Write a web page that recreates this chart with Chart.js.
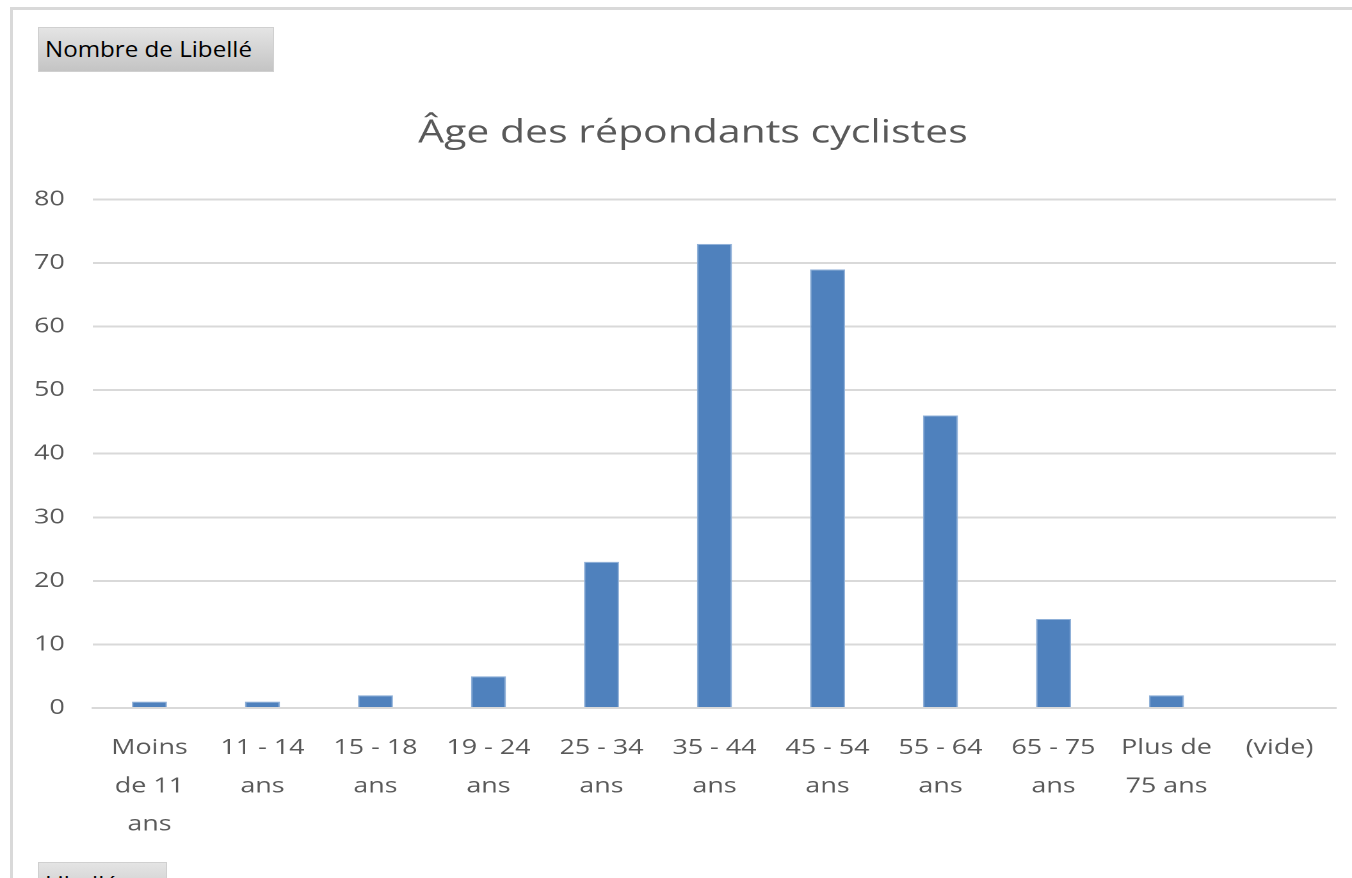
<!DOCTYPE html>
<html lang="fr">
<head>
<meta charset="utf-8">
<title>Âge des répondants cyclistes</title>
<script src="https://cdn.jsdelivr.net/npm/chart.js@4.4.1/dist/chart.umd.min.js"></script>
<style>
    html, body { margin: 0; padding: 0; background: #ffffff; overflow: hidden; }
    #wrap { position: relative; width: 1352px; height: 878px; }
    #frame {
        position: absolute; left: 10px; top: 7px; width: 1400px; height: 900px;
        border-left: 3px solid #d9d9d9; border-top: 3px solid #d9d9d9;
    }
    .pivot-btn {
        position: absolute; height: 45px; box-sizing: border-box;
        background: linear-gradient(#e4e4e4, #c4c4c4);
        border: 1px solid #d0d0d0;
        font-family: 'Open Sans', sans-serif; font-size: 21px; color: #000;
        padding-left: 6px; line-height: 43px; overflow: hidden; white-space: nowrap;
    }
    .pivot-btn span { display: inline-block; transform: scaleX(1.15); transform-origin: 0 50%; }
    /* le rendu Excel est plus large : on étire le canvas horizontalement */
    #chartBox { position: absolute; left: 0; top: 0; width: 1056px; height: 878px;
                transform: scaleX(1.2803); transform-origin: 0 0; }
</style>
</head>
<body>
<div id="wrap">
    <div id="frame"></div>
    <div id="chartBox"><canvas id="ageChart" width="1056" height="878"></canvas></div>
    <div class="pivot-btn" style="left:38px; top:27px; width:236px;"><span>Nombre de Libellé</span></div>
    <div class="pivot-btn" style="left:38px; top:862px; width:129px;"><span>Libellé</span></div>
</div>
<script>
// Données
const categories = [
    ['Moins', 'de 11', 'ans'],
    ['11 - 14', 'ans'],
    ['15 - 18', 'ans'],
    ['19 - 24', 'ans'],
    ['25 - 34', 'ans'],
    ['35 - 44', 'ans'],
    ['45 - 54', 'ans'],
    ['55 - 64', 'ans'],
    ['65 - 75', 'ans'],
    ['Plus de', '75 ans'],
    '(vide)'
];
const counts = [1, 1, 2, 5, 23, 73, 69, 46, 14, 2, 0];
const yMax = 80;
const yStep = 10;

const textColor = '#595959';
const gridColor = '#d9d9d9';

// Décale le bloc titre vers la droite (centré comme dans Excel)
const titleShiftPlugin = {
    id: 'titleShift',
    afterLayout(chart) {
        if (chart.titleBlock) chart.titleBlock.left += 39;
    }
};

const ctx = document.getElementById('ageChart').getContext('2d');
new Chart(ctx, {
    type: 'bar',
    plugins: [titleShiftPlugin],
    data: {
        labels: categories,
        datasets: [{
            label: 'Total',
            data: counts,
            backgroundColor: '#4f81bd',
            borderColor: '#8fb0d8',
            borderWidth: 1,
            barPercentage: 0.31,
            categoryPercentage: 1.0
        }]
    },
    options: {
        responsive: false,
        animation: false,
        devicePixelRatio: 2,
        layout: { padding: { top: 95, right: 12.5, bottom: 0, left: 0 } },
        plugins: {
            legend: { display: false },
            tooltip: { enabled: false },
            title: {
                display: true,
                text: 'Âge des répondants cyclistes',
                color: textColor,
                font: { family: 'Open Sans', size: 32, weight: 'normal' },
                padding: { top: 19, bottom: 47 }
            }
        },
        scales: {
            x: {
                grid: { display: false, drawTicks: false },
                border: { color: gridColor, width: 2 },
                ticks: {
                    color: textColor,
                    font: { family: 'Open Sans', size: 21, lineHeight: 1.82 },
                    padding: 21,
                    maxRotation: 0,
                    autoSkip: false
                },
                afterFit: (scale) => { scale.height = 170; }
            },
            y: {
                min: 0,
                max: yMax,
                grid: { color: gridColor, lineWidth: 2, drawTicks: false },
                border: { display: false },
                ticks: {
                    stepSize: yStep,
                    color: textColor,
                    font: { family: 'Open Sans', size: 21 },
                    padding: 22
                },
                afterFit: (scale) => { scale.width = 72.6; }
            }
        }
    }
});
</script>
</body>
</html>
